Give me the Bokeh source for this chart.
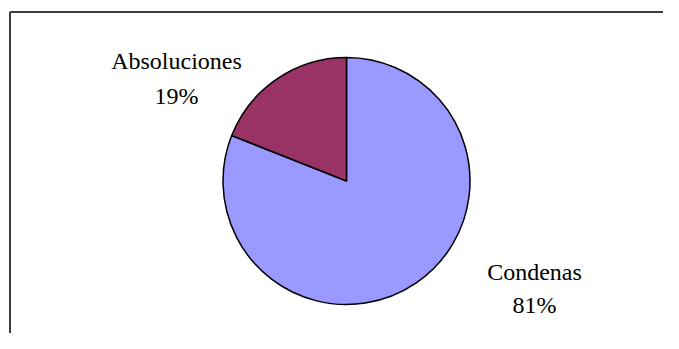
import numpy as np
from bokeh.plotting import figure
from bokeh.models import Range1d
from bokeh.core.properties import value
from bokeh.embed import file_html
from bokeh.resources import INLINE

categories = ["Condenas", "Absoluciones"]
values = [81, 19]
pct_labels = ["81%", "19%"]
colors = ["#9999FF", "#993366"]

W, H = 663, 333
# data coordinates: x = picture x, y = H - picture y
p = figure(width=W, height=H, output_backend="svg", toolbar_location=None,
           x_range=Range1d(0, W), y_range=Range1d(0, H), min_border=0)
p.axis.visible = False
p.grid.visible = False
p.outline_line_color = None
p.background_fill_color = "white"
p.border_fill_color = "white"

# frame (top + left visible)
p.line([9.5, W], [H - 11.5, H - 11.5], line_color="#3c3c3c", line_width=2)
p.line([9.5, 9.5], [H - 11.5, 0], line_color="#3c3c3c", line_width=2)

vals = np.array(values, dtype=float)
frac = vals / vals.sum()
# Condenas clockwise from 12 o'clock, Absoluciones the remainder
top = np.pi / 2
starts = [top - frac[0] * 2 * np.pi, top]
ends = [top, top + frac[1] * 2 * np.pi]

cx, cy, r = 346, H - 180.5, 123.5
for s, e, c in zip(starts, ends, colors):
    p.wedge(x=cx, y=cy, radius=r, start_angle=s, end_angle=e,
            fill_color=c, line_color="black", line_width=1.5)

font = value("Liberation Serif")
label_pos = {"Condenas": (534, 271, 304), "Absoluciones": (176, 60, 95)}
for cat, pl in zip(categories, pct_labels):
    x, y1, y2 = label_pos[cat]
    p.text(x=[x], y=[H - y1], text=[cat], text_font=font, text_font_size="24px",
           text_align="center", text_baseline="alphabetic", text_color="black")
    p.text(x=[x], y=[H - y2], text=[pl], text_font=font, text_font_size="24px",
           text_align="center", text_baseline="alphabetic", text_color="black")

open("out.html", "w").write(file_html(p, INLINE))
